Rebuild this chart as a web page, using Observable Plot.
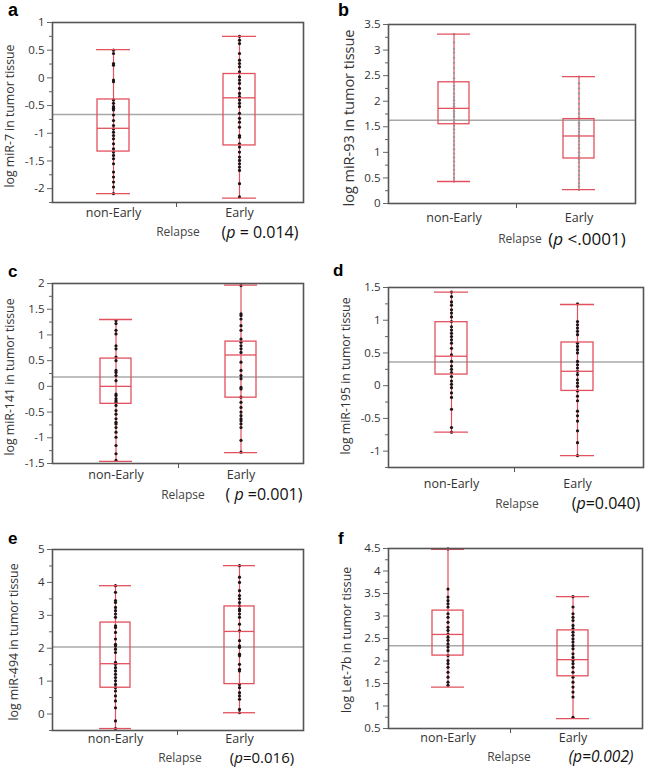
<!DOCTYPE html>
<html><head><meta charset="utf-8">
<script src="https://cdn.jsdelivr.net/npm/d3@7"></script>
<script src="https://cdn.jsdelivr.net/npm/@observablehq/plot@0.6"></script>
<style>
body{margin:0;background:#fff;}
#fig{position:relative;width:645px;height:770px;overflow:hidden;background:#fff;}
.pan{position:absolute;}
#over{position:absolute;left:0;top:0;pointer-events:none;}
</style></head><body><div id="fig"></div>
<script>
// ---------- data ----------
const groups = ["non-Early", "Early"];
const letters = ["a", "b", "c", "d", "e", "f"];
const yLabels = ["log miR-7 in tumor tissue", "log miR-93 in tumor tissue", "log miR-141 in tumor tissue",
                 "log miR-195 in tumor tissue", "log miR-494 in tumor tissue", "log Let-7b in tumor tissue"];
const xTitle = "Relapse";
const pLabels = ["(p = 0.014)", "(p <.0001)", "( p =0.001)", "(p=0.040)", "(p=0.016)", "(p=0.002)"];
const grandMeans = [-0.66, 1.63, 0.18, 0.36, 2.04, 2.34];

const ticksA = [1, 0.5, 0, -0.5, -1, -1.5, -2];
const ticksB = [3.5, 3, 2.5, 2, 1.5, 1, 0.5, 0];
const ticksC = [2, 1.5, 1, 0.5, 0, -0.5, -1, -1.5];
const ticksD = [1.5, 1, 0.5, 0, -0.5, -1];
const ticksE = [5, 4, 3, 2, 1, 0];
const ticksF = [4.5, 4, 3.5, 3, 2.5, 2, 1.5, 1, 0.5];

// box statistics per group [non-Early, Early]
const statsA = {min: [-2.09, -2.17], q1: [-1.33, -1.22], med: [-0.91, -0.36], q3: [-0.39, 0.07], max: [0.51, 0.75]};
const statsB = {min: [0.43, 0.27], q1: [1.55, 0.88], med: [1.86, 1.32], q3: [2.37, 1.65], max: [3.31, 2.48]};
const statsC = {min: [-1.46, -1.29], q1: [-0.34, -0.22], med: [0.0, 0.61], q3: [0.54, 0.87], max: [1.30, 1.97]};
const statsD = {min: [-0.71, -1.07], q1: [0.17, -0.08], med: [0.45, 0.22], q3: [0.97, 0.66], max: [1.43, 1.24]};
const statsE = {min: [-0.44, 0.04], q1: [0.80, 0.91], med: [1.53, 2.51], q3: [2.78, 3.27], max: [3.90, 4.51]};
const statsF = {min: [1.42, 0.72], q1: [2.12, 1.66], med: [2.59, 2.03], q3: [3.12, 2.68], max: [4.48, 3.43]};

// individual points
const miR7_non = [0.5, 0.44, 0.26, 0.23, -0.04, -0.07, -0.40, -0.46, -0.52, -0.55, -0.58, -0.67, -0.77, -0.86, -0.92, -0.98, -1.04, -1.10, -1.19, -1.28, -1.34, -1.40, -1.46, -1.55, -1.70, -1.79, -1.88, -1.97, -2.09];
const miR7_early = [0.75, 0.68, 0.62, 0.44, 0.32, 0.26, 0.20, 0.11, 0.02, -0.04, -0.10, -0.19, -0.28, -0.34, -0.40, -0.46, -0.52, -0.64, -0.73, -0.80, -0.89, -1.04, -1.07, -1.19, -1.25, -1.34, -1.43, -1.49, -1.55, -1.61, -1.67, -1.91, -2.15];
const miR93_non = [3.31, 3.15, 3.02, 2.95, 2.85, 2.75, 2.65, 2.55, 2.45, 2.38, 2.30, 2.24, 2.15, 2.08, 2.02, 1.95, 1.90, 1.86, 1.80, 1.75, 1.70, 1.64, 1.58, 1.52, 1.45, 1.38, 1.30, 1.22, 1.15, 1.06, 0.98, 0.90, 0.82, 0.74, 0.66, 0.58, 0.50, 0.43];
const miR93_early = [2.48, 2.35, 2.25, 2.15, 2.05, 1.95, 1.85, 1.76, 1.68, 1.62, 1.57, 1.52, 1.46, 1.40, 1.34, 1.28, 1.22, 1.15, 1.08, 1.00, 0.93, 0.86, 0.80, 0.72, 0.64, 0.56, 0.48, 0.40, 0.33, 0.27];
const miR141_non = [1.28, 1.22, 1.09, 1.02, 0.79, 0.73, 0.57, 0.50, 0.31, 0.27, 0.21, 0.11, -0.15, -0.18, -0.24, -0.28, -0.31, -0.37, -0.47, -0.54, -0.63, -0.70, -0.73, -0.80, -0.89, -0.99, -1.15, -1.31, -1.44];
const miR141_early = [1.96, 1.41, 1.38, 1.31, 1.18, 1.09, 0.92, 0.86, 0.79, 0.73, 0.66, 0.47, 0.31, 0.21, 0.15, -0.02, -0.05, -0.21, -0.31, -0.41, -0.50, -0.57, -0.63, -0.67, -0.73, -0.80, -1.05, -1.28];
const miR195_non = [1.43, 1.36, 1.28, 1.23, 1.16, 1.11, 1.05, 0.98, 0.90, 0.85, 0.80, 0.75, 0.70, 0.65, 0.57, 0.47, 0.37, 0.30, 0.25, 0.20, 0.14, 0.07, 0.02, -0.03, -0.11, -0.18, -0.36, -0.64, -0.71];
const miR195_early = [1.25, 0.98, 0.93, 0.88, 0.83, 0.78, 0.65, 0.60, 0.55, 0.50, 0.37, 0.32, 0.27, 0.22, 0.17, 0.09, 0.04, -0.01, -0.08, -0.16, -0.23, -0.39, -0.46, -0.54, -0.69, -0.87, -1.07];
const miR494_non = [3.90, 3.70, 3.45, 3.39, 3.24, 3.14, 3.04, 2.94, 2.68, 2.63, 2.48, 2.28, 2.12, 2.07, 1.97, 1.87, 1.57, 1.51, 1.41, 1.31, 1.21, 1.11, 1.01, 0.90, 0.80, 0.70, 0.55, 0.40, 0.19, -0.21, -0.44];
const miR494_early = [4.51, 4.16, 4.00, 3.75, 3.60, 3.50, 3.39, 3.29, 3.19, 3.14, 3.04, 2.94, 2.73, 2.53, 2.23, 2.07, 2.02, 1.82, 1.77, 1.51, 1.36, 1.31, 0.90, 0.80, 0.65, 0.55, 0.45, 0.14, 0.04];
const let7b_non = [4.49, 3.60, 3.42, 3.34, 3.27, 3.20, 3.05, 2.97, 2.86, 2.75, 2.68, 2.60, 2.53, 2.46, 2.38, 2.31, 2.23, 2.12, 2.01, 1.94, 1.86, 1.75, 1.64, 1.53, 1.46];
const let7b_early = [3.43, 3.20, 3.05, 2.97, 2.90, 2.79, 2.72, 2.64, 2.57, 2.49, 2.42, 2.34, 2.27, 2.16, 2.08, 2.01, 1.94, 1.86, 1.75, 1.64, 1.53, 1.42, 1.31, 1.20, 0.75];

const allTicks = [ticksA, ticksB, ticksC, ticksD, ticksE, ticksF];
const allStats = [statsA, statsB, statsC, statsD, statsE, statsF];
const allPoints = [[miR7_non, miR7_early], [miR93_non, miR93_early], [miR141_non, miR141_early],
                   [miR195_non, miR195_early], [miR494_non, miR494_early], [let7b_non, let7b_early]];

// ---------- layout ----------
const layout = [
  {left: 0,   top: 0,   w: 320, h: 255, ml: 52, mr: 17, mt: 22, mb: 53, xr: [50, 302],     dom: [-2.25, 1],  pad: 6,
   letter: [8, 16, 18], ylab: [9, 116, 12.3], rel: [178, 231], pv: [260, 232, 16]},
  {left: 320, top: 0,   w: 325, h: 255, ml: 68, mr: 10, mt: 24, mb: 52, xr: [70.5, 320.5], dom: [0, 3.5],    pad: 10,
   letter: [338, 16, 18], ylab: [348, 118, 14.5], rel: [520, 238], pv: [587, 238, 17]},
  {left: 0,   top: 255, w: 320, h: 255, ml: 52, mr: 17, mt: 28, mb: 47, xr: [52.5, 302.5], dom: [-1.5, 2],   pad: 7,
   letter: [8, 277, 17], ylab: [9, 377, 12.3], rel: [183, 494], pv: [264, 494, 16]},
  {left: 320, top: 255, w: 325, h: 255, ml: 68, mr: 2,  mt: 32, mb: 43, xr: [68, 320],     dom: [-1.25, 1.5], pad: 12,
   letter: [333, 276, 17], ylab: [345, 376, 12.3], rel: [517, 503], pv: [606, 503, 16]},
  {left: 0,   top: 510, w: 320, h: 260, ml: 52, mr: 17, mt: 39, mb: 40, xr: [53, 301],     dom: [-0.5, 5],   pad: 4,
   letter: [8, 544, 17], ylab: [13, 642, 12.3], rel: [180, 757], pv: [262, 757, 15]},
  {left: 320, top: 510, w: 325, h: 260, ml: 68, mr: 3,  mt: 38, mb: 42, xr: [64.5, 314.5], dom: [0.5, 4.5],  pad: 5,
   letter: [338, 544, 17], ylab: [346, 640, 12.3], rel: [509, 756], pv: [601, 756, 15.5]}
];

const red = "#e3505e";
const font = "'Open Sans', 'Noto Sans', sans-serif";
const fig = document.getElementById("fig");

layout.forEach((L, k) => {
  const stats = allStats[k];
  const majors = allTicks[k];
  const step = Math.abs(majors[0] - majors[1]);
  const lo = Math.min(...L.dom), hi = Math.max(...L.dom);
  const minors = majors.map(t => t - step / 2).concat([majors[0] + step / 2])
    .filter(t => t >= lo - 1e-9 && t <= hi + 1e-9 && !majors.includes(t));
  const pts = [];
  allPoints[k].forEach((arr, gi) => arr.forEach(v => pts.push({g: groups[gi], v})));
  const bw = (L.xr[1] - L.xr[0]) / 2;
  const inset = 47;
  const isB = k === 1;
  const chart = Plot.plot({
    width: L.w, height: L.h,
    marginLeft: L.ml, marginRight: L.mr, marginTop: L.mt, marginBottom: L.mb,
    style: {fontFamily: font, fontSize: "11.5px", color: "#333", background: "transparent", overflow: "visible"},
    x: {type: "band", domain: groups, range: L.xr, padding: 0},
    y: {domain: L.dom},
    marks: [
      Plot.ruleY([grandMeans[k]], {stroke: "#a8a8a8", strokeWidth: 1.5}),
      Plot.ruleX(groups, {x: d => d, y1: (d, i) => stats.min[i], y2: (d, i) => stats.max[i], stroke: red, strokeWidth: 1.2}),
      Plot.dot(pts, {x: "g", y: "v", r: isB ? 1.2 : 1.6, fill: isB ? "#999" : "#1e1214", stroke: null}),
      Plot.barY(groups, {x: d => d, y1: (d, i) => stats.q1[i], y2: (d, i) => stats.q3[i], fill: "none", stroke: red, strokeWidth: 1.3, insetLeft: inset, insetRight: inset}),
      Plot.tickY(groups, {x: d => d, y: (d, i) => stats.med[i], stroke: red, strokeWidth: 1.3, insetLeft: inset, insetRight: inset}),
      Plot.tickY(groups, {x: d => d, y: (d, i) => stats.min[i], stroke: red, strokeWidth: 1.3, insetLeft: inset - 1, insetRight: inset - 1}),
      Plot.tickY(groups, {x: d => d, y: (d, i) => stats.max[i], stroke: red, strokeWidth: 1.3, insetLeft: inset - 1, insetRight: inset - 1}),
      Plot.axisY({ticks: majors, tickSize: 5, tickPadding: 3, tickFormat: d => String(d), label: null, stroke: "#666", fill: "#333"}),
      Plot.axisY({ticks: minors, tickSize: 3, tickFormat: () => "", label: null, stroke: "#666"}),
      Plot.axisX({tickSize: 0, tickPadding: L.pad, label: null, fontSize: 12.5, fill: "#333"}),
      Plot.ruleX(["Early"], {x: d => d, dx: -bw / 2, y1: lo, y2: lo, insetBottom: -5, stroke: "#555"}),
      Plot.frame({stroke: "#555", strokeWidth: 1.6})
    ]
  });
  const wrap = document.createElement("div");
  wrap.className = "pan";
  wrap.style.left = L.left + "px";
  wrap.style.top = L.top + "px";
  wrap.appendChild(chart);
  fig.appendChild(wrap);
});

// ---------- annotation overlay ----------
const over = d3.select(fig).append("svg").attr("id", "over").attr("width", 645).attr("height", 770)
  .style("font-family", font).style("fill", "#222");

layout.forEach((L, k) => {
  over.append("text").attr("x", L.letter[0]).attr("y", L.letter[1])
    .style("font-family", "'Liberation Sans', Arial, sans-serif").style("font-weight", "bold")
    .style("font-size", L.letter[2] + "px").style("fill", "#000").text(letters[k]);
  over.append("text").attr("transform", `translate(${L.ylab[0]},${L.ylab[1]}) rotate(-90)`)
    .attr("text-anchor", "middle").attr("dominant-baseline", "central")
    .style("font-size", L.ylab[2] + "px").style("fill", "#333").text(yLabels[k]);
  over.append("text").attr("x", L.rel[0]).attr("y", L.rel[1])
    .attr("text-anchor", "middle").attr("dominant-baseline", "central")
    .style("font-size", "12px").style("fill", "#444").text(xTitle);
  const t = over.append("text").attr("x", L.pv[0]).attr("y", L.pv[1])
    .attr("text-anchor", "middle").attr("dominant-baseline", "central")
    .style("font-size", L.pv[2] + "px").style("fill", "#111");
  const s = pLabels[k];
  const j = s.indexOf("p");
  const allItalic = k === 5;
  t.append("tspan").style("font-style", allItalic ? "italic" : "normal").text(s.slice(0, j));
  t.append("tspan").style("font-style", "italic").text("p");
  t.append("tspan").style("font-style", allItalic ? "italic" : "normal").text(s.slice(j + 1));
});
</script>
</body></html>
